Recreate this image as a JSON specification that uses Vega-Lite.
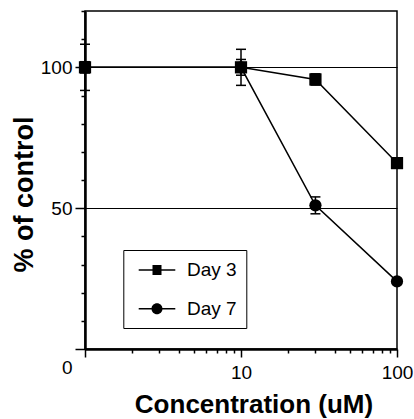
{
  "$schema": "https://vega.github.io/schema/vega-lite/v6.json",
  "width": 312,
  "height": 338,
  "autosize": {"type": "none"},
  "padding": {"left": 85, "top": 11, "right": 17, "bottom": 70},
  "config": {
    "view": {"stroke": "black", "strokeWidth": 1.5},
    "font": "Liberation Sans",
    "axis": {
      "domainColor": "black", "domainWidth": 2.5,
      "tickColor": "black", "tickWidth": 1.5,
      "labelColor": "black", "labelFont": "Liberation Sans", "labelFontSize": 19,
      "titleColor": "black", "titleFont": "Liberation Sans", "titleFontWeight": "bold"
    }
  },
  "data": {
    "values": [
      {"conc": 1, "series": "Day 3", "pct": 100, "lo": 91.8, "hi": 108.2},
      {"conc": 10, "series": "Day 3", "pct": 100, "lo": 93.6, "hi": 106.4},
      {"conc": 30, "series": "Day 3", "pct": 95.7, "lo": 93.7, "hi": 97.7},
      {"conc": 100, "series": "Day 3", "pct": 66, "lo": 65, "hi": 67},
      {"conc": 1, "series": "Day 7", "pct": 100, "lo": 98, "hi": 102},
      {"conc": 10, "series": "Day 7", "pct": 100, "lo": 97.2, "hi": 102.8},
      {"conc": 30, "series": "Day 7", "pct": 51, "lo": 48, "hi": 54},
      {"conc": 100, "series": "Day 7", "pct": 24, "lo": 23, "hi": 25}
    ]
  },
  "encoding": {
    "x": {
      "field": "conc", "type": "quantitative",
      "scale": {"type": "log", "domain": [1, 100], "nice": false},
      "axis": {
        "title": "Concentration (uM)", "titleFontSize": 26,
        "titleX": 168.5, "titleY": 63, "titleAlign": "center", "titleBaseline": "alphabetic",
        "values": [1, 2, 3, 4, 5, 6, 7, 8, 9, 10, 20, 30, 40, 50, 60, 70, 80, 90, 100],
        "tickCount": 100,
        "tickSize": {"condition": {"test": "datum.value == 1 || datum.value == 10 || datum.value == 100", "value": 8}, "value": 4},
        "labelExpr": "datum.value == 10 || datum.value == 100 ? datum.label : ''",
        "labelPadding": 6, "labelFlush": false, "labelOverlap": false, "grid": false
      }
    }
  },
  "layer": [
    {
      "mark": {"type": "line", "color": "black", "strokeWidth": 1.5},
      "encoding": {
        "y": {
          "field": "pct", "type": "quantitative",
          "scale": {"domain": [0, 120], "nice": false},
          "axis": {
            "title": "% of control", "titleFontSize": 27,
            "titleX": -53, "titleY": 183, "titleAlign": "center", "titleBaseline": "alphabetic",
            "values": [0, 10, 20, 30, 40, 50, 60, 70, 80, 90, 100, 110, 120],
            "tickCount": 100,
            "tickSize": {"condition": {"test": "datum.value == 0 || datum.value == 50 || datum.value == 100", "value": 10}, "value": 4},
            "labelExpr": "datum.value == 0 || datum.value == 50 || datum.value == 100 ? datum.label : ''",
            "labelPadding": 3, "labelFlush": false, "labelOverlap": false,
            "labelOffset": {"condition": {"test": "datum.value == 0", "value": 18}, "value": 0},
            "grid": true, "gridColor": "black", "gridWidth": 1.2,
            "gridOpacity": {"condition": {"test": "datum.value == 50 || datum.value == 100", "value": 1}, "value": 0}
          }
        },
        "detail": {"field": "series", "type": "nominal"}
      }
    },
    {
      "mark": {"type": "rule", "color": "black", "strokeWidth": 1.5},
      "encoding": {
        "y": {"field": "lo", "type": "quantitative", "title": "% of control"},
        "y2": {"field": "hi"}
      }
    },
    {
      "mark": {"type": "tick", "orient": "horizontal", "color": "black", "size": 10, "thickness": 1.5, "opacity": 1},
      "encoding": {
        "y": {"field": "lo", "type": "quantitative", "title": "% of control"}
      }
    },
    {
      "mark": {"type": "tick", "orient": "horizontal", "color": "black", "size": 10, "thickness": 1.5, "opacity": 1},
      "encoding": {
        "y": {"field": "hi", "type": "quantitative", "title": "% of control"}
      }
    },
    {
      "mark": {"type": "point", "filled": true, "color": "black", "opacity": 1, "size": 150},
      "encoding": {
        "y": {"field": "pct", "type": "quantitative", "title": "% of control"},
        "shape": {
          "field": "series", "type": "nominal",
          "scale": {"domain": ["Day 3", "Day 7"], "range": ["square", "circle"]},
          "legend": null
        }
      }
    },
    {
      "transform": [{"filter": "false"}],
      "mark": {"type": "point", "filled": true, "color": "black", "opacity": 1, "size": 400},
      "encoding": {
        "y": {"field": "pct", "type": "quantitative", "title": "% of control"},
        "shape": {
          "field": "series", "type": "nominal",
          "scale": {
            "domain": ["Day 3", "Day 7"],
            "range": [
              "M-0.46,-0.075H3.2V0.075H-0.46ZM0.92,-0.5H1.82V0.5H0.92Z",
              "M-0.46,-0.075H3.2V0.075H-0.46ZM1.92,0A0.55,0.55,0,1,1,0.82,0A0.55,0.55,0,1,1,1.92,0Z"
            ]
          },
          "legend": {
            "orient": "none", "legendX": 38.3, "legendY": 239,
            "title": null,
            "strokeColor": "black", "fillColor": "white",
            "padding": 9, "rowPadding": 17.7,
            "labelFontSize": 19, "labelFont": "Liberation Sans", "labelColor": "black",
            "labelOffset": 32.7,
            "symbolSize": 400, "symbolFillColor": "black", "symbolOpacity": 1,
            "encode": {
              "legend": {"update": {"strokeWidth": {"value": 1.5}}}
            }
          }
        }
      }
    }
  ],
  "resolve": {"scale": {"shape": "independent"}}
}
